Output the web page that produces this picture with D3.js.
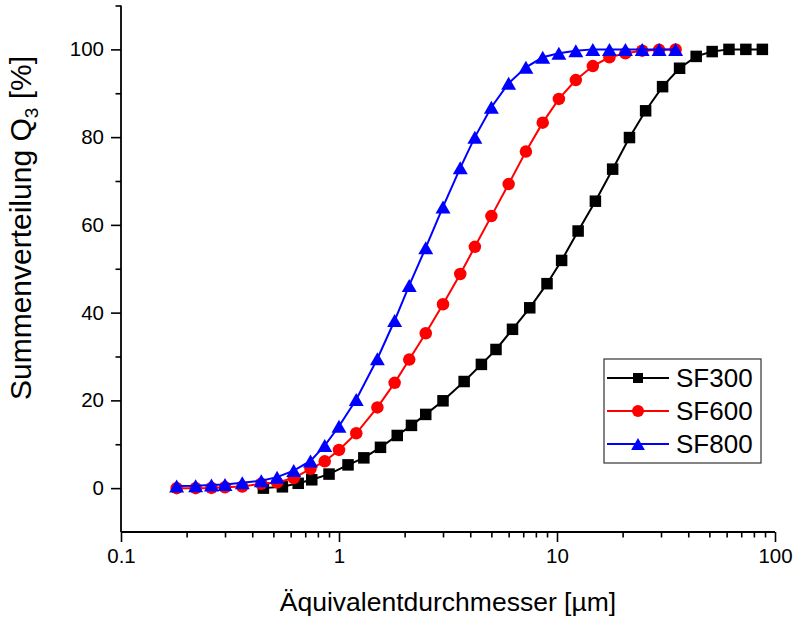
<!DOCTYPE html>
<html>
<head>
<meta charset="utf-8">
<script src="https://cdn.jsdelivr.net/npm/d3@7"></script>
<style>
  html, body { margin: 0; padding: 0; background: #fff; }
  svg { display: block; }
  text { font-family: Arial, "Liberation Sans", sans-serif; fill: #000; }
</style>
</head>
<body>
<svg id="chart" width="796" height="618"></svg>
<script>
// Particle size classes (µm) of the two laser-diffraction measuring ranges
const sizesR2 = [0.45, 0.55, 0.65, 0.75, 0.9, 1.1, 1.3, 1.55, 1.85, 2.15, 2.5, 3.0, 3.75, 4.5, 5.25,
                 6.25, 7.5, 9.0, 10.5, 12.5, 15, 18, 21.5, 25.5, 30.5, 36.5, 43.5, 51.5, 61.5, 73.5, 87.5];
const sizesR1 = [0.18, 0.22, 0.26, 0.30, 0.36, 0.44, 0.52, 0.62, 0.74, 0.86, 1.0, 1.2, 1.5, 1.8, 2.1,
                 2.5, 3.0, 3.6, 4.2, 5.0, 6.0, 7.2, 8.6, 10.2, 12.2, 14.6, 17.4, 20.6, 24.6, 29.4, 35.0];

// Cumulative volume distribution Q3 (%)
const sf300 = [0, 0.3, 1.1, 1.9, 3.2, 5.3, 6.9, 9.3, 12.0, 14.3, 16.8, 19.9, 24.3, 28.2, 31.6,
               36.2, 41.1, 46.6, 51.9, 58.6, 65.4, 72.7, 79.9, 86.0, 91.5, 95.7, 98.4, 99.5, 100, 100, 100];
const sf600 = [0, 0, 0.05, 0.2, 0.35, 1.0, 1.3, 2.3, 4.4, 6.1, 8.7, 12.5, 18.4, 24.0, 29.3,
               35.3, 41.9, 48.8, 55.0, 62.0, 69.3, 76.7, 83.3, 88.7, 93.0, 96.2, 98.2, 99.1, 99.7, 99.9, 100];
const sf800 = [0.5, 0.55, 0.7, 0.8, 1.2, 1.7, 2.5, 4.0, 6.2, 9.7, 14.1, 20.2, 29.5, 38.2, 46.2,
               54.8, 64.1, 73.0, 80.0, 86.8, 92.3, 95.9, 98.2, 99.1, 99.7, 100, 100, 100, 100, 100, 100];

const seriesNames = ["SF300", "SF600", "SF800"];
const xTickValues = [0.1, 1, 10, 100];
const yTickValues = [0, 20, 40, 60, 80, 100];

const series = [
  { name: seriesNames[0], sizes: sizesR2, values: sf300, color: "#000000", shape: "square" },
  { name: seriesNames[1], sizes: sizesR1, values: sf600, color: "#ff0000", shape: "circle" },
  { name: seriesNames[2], sizes: sizesR1, values: sf800, color: "#0000ff", shape: "triangle" }
];

const svg = d3.select("#chart");
const plotLeft = 121, plotRight = 775, plotTop = 5.5, plotBottom = 532;

const x = d3.scaleLog().domain([0.1, 100]).range([plotLeft, plotRight]);
const y = d3.scaleLinear().domain([-10, 110]).range([plotBottom, plotTop]);

// marker drawing helper
function marker(sel, shape, color, s) {
  if (shape === "square") {
    sel.append("rect").attr("x", -s / 2).attr("y", -s / 2).attr("width", s).attr("height", s)
      .attr("fill", color);
  } else if (shape === "circle") {
    sel.append("circle").attr("r", s / 2).attr("fill", color);
  } else {
    const w = s * 1.15, h = s;
    sel.append("path").attr("d", `M0,${-h / 2}L${w / 2},${h / 2}L${-w / 2},${h / 2}Z`).attr("fill", color);
  }
}
const markerSize = { square: 11.5, circle: 12.5, triangle: 13 };

// Axes
const axisColor = "#000";
const xMinor = [];
for (let d = 0.1; d < 100; d *= 10) for (let k = 2; k <= 9; k++) xMinor.push(+(d * k).toPrecision(3));

const gx = svg.append("g").attr("transform", `translate(0,${plotBottom})`);
gx.call(d3.axisBottom(x).tickValues(xMinor).tickSize(5.5).tickFormat(""));
gx.append("g").call(d3.axisBottom(x).tickValues(xTickValues).tickSize(10).tickPadding(6)
  .tickFormat(d => String(d)));
gx.selectAll(".domain").remove();
gx.append("line").attr("x1", plotLeft).attr("x2", plotRight).attr("stroke", axisColor).attr("stroke-width", 1.8);
gx.selectAll(".tick line").attr("stroke", axisColor).attr("stroke-width", 1.6);
gx.selectAll(".tick text").attr("font-size", 20.5).attr("font-family", "Arial, 'Liberation Sans', sans-serif");

const gy = svg.append("g").attr("transform", `translate(${plotLeft},0)`);
gy.call(d3.axisLeft(y).tickValues([10, 30, 50, 70, 90, 110]).tickSize(5.5).tickFormat(""));
gy.append("g").call(d3.axisLeft(y).tickValues(yTickValues).tickSize(10).tickPadding(7));
gy.selectAll(".domain").remove();
gy.append("line").attr("y1", plotTop).attr("y2", plotBottom).attr("stroke", axisColor).attr("stroke-width", 1.8);
gy.selectAll(".tick line").attr("stroke", axisColor).attr("stroke-width", 1.6);
gy.selectAll(".tick text").attr("font-size", 20.5).attr("font-family", "Arial, 'Liberation Sans', sans-serif");

// Axis titles
svg.append("text").attr("x", 448).attr("y", 611).attr("text-anchor", "middle")
  .attr("font-size", 26.5).text("Äquivalentdurchmesser [µm]");

const yt = svg.append("text").attr("transform", "translate(31,228) rotate(-90)")
  .attr("text-anchor", "middle").attr("font-size", 30);
yt.append("tspan").text("Summenverteilung Q");
yt.append("tspan").attr("font-size", 19).attr("dy", 7).text("3");
yt.append("tspan").attr("dy", -7).text(" [%]");

// Series
const line = d3.line().x(d => x(d[0])).y(d => y(d[1]));
series.forEach(s => {
  const pts = s.sizes.map((v, i) => [v, s.values[i]]);
  const g = svg.append("g");
  g.append("path").datum(pts).attr("d", line).attr("fill", "none")
    .attr("stroke", s.color).attr("stroke-width", 2);
  g.selectAll("g.pt").data(pts).join("g").attr("class", "pt")
    .attr("transform", d => `translate(${x(d[0])},${y(d[1])})`)
    .each(function () { marker(d3.select(this), s.shape, s.color, markerSize[s.shape]); });
});

// Legend
const lg = svg.append("g");
lg.append("rect").attr("x", 604).attr("y", 359).attr("width", 157).attr("height", 104)
  .attr("fill", "#fff").attr("stroke", "#333").attr("stroke-width", 1.2);
series.forEach((s, i) => {
  const cy = 378 + i * 33;
  lg.append("line").attr("x1", 607).attr("x2", 669).attr("y1", cy).attr("y2", cy)
    .attr("stroke", s.color).attr("stroke-width", 2);
  const m = lg.append("g").attr("transform", `translate(638,${cy})`);
  marker(m, s.shape, s.color, s.shape === "square" ? 10 : 12);
  lg.append("text").attr("x", 676).attr("y", cy + 9).attr("font-size", 26).text(s.name);
});
</script>
</body>
</html>
